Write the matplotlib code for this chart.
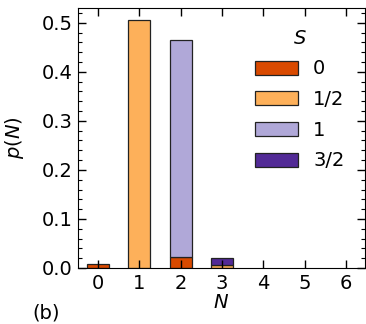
import matplotlib
matplotlib.use("Agg")
import matplotlib.pyplot as plt
import numpy as np
from matplotlib.ticker import MultipleLocator

N = [0, 1, 2, 3, 4, 5, 6]
spin_labels = ["0", "1/2", "1", "3/2"]
# probability contributions p(N) split by total spin S
p_S0 = [0.008, 0.0, 0.022, 0.0, 0.0, 0.0, 0.0]
p_S12 = [0.0, 0.505, 0.0, 0.006, 0.0, 0.0, 0.0]
p_S1 = [0.0, 0.0, 0.443, 0.0, 0.0, 0.0, 0.0]
p_S32 = [0.0, 0.0, 0.0, 0.015, 0.0, 0.0, 0.0]
colors = ["#d94a00", "#fdb05a", "#b0a8d8", "#522a96"]

plt.rcParams["font.family"] = "DejaVu Sans"
plt.rcParams["font.size"] = 14

fig = plt.figure(figsize=(3.66, 3.24), dpi=100)
ax = fig.add_axes([0.213, 0.173, 0.784, 0.802])

series = [p_S0, p_S12, p_S1, p_S32]
bottom = np.zeros(len(N))
for vals, col, lab in zip(series, colors, spin_labels):
    v = np.array(vals)
    mask = v > 0
    ax.bar(np.array(N)[mask], v[mask], width=0.53, bottom=bottom[mask],
           color=col, edgecolor="#222222", linewidth=0.9, label=lab)
    bottom += v

ax.set_xlim(-0.48, 6.45)
ax.set_ylim(0, 0.53)
ax.set_xticks(N)
ax.yaxis.set_major_locator(MultipleLocator(0.1))
ax.yaxis.set_minor_locator(MultipleLocator(0.02))
ax.tick_params(which="both", direction="in", top=True, right=True)
ax.tick_params(which="major", length=6, width=1, pad=4)
ax.tick_params(which="minor", length=3, width=0.8)
ax.set_xlabel("$N$", labelpad=0)
ax.set_ylabel("$p(N)$", labelpad=11)

leg = ax.legend(title="$S$", loc="upper right", bbox_to_anchor=(0.99, 0.988),
                frameon=False, handlelength=2.2, handleheight=0.72,
                labelspacing=0.6, handletextpad=0.8, fontsize=14,
                title_fontsize=14)

fig.text(0.126, 0.034, "(b)", ha="center", va="center", fontsize=14)

fig.savefig("out.png", dpi=100)
